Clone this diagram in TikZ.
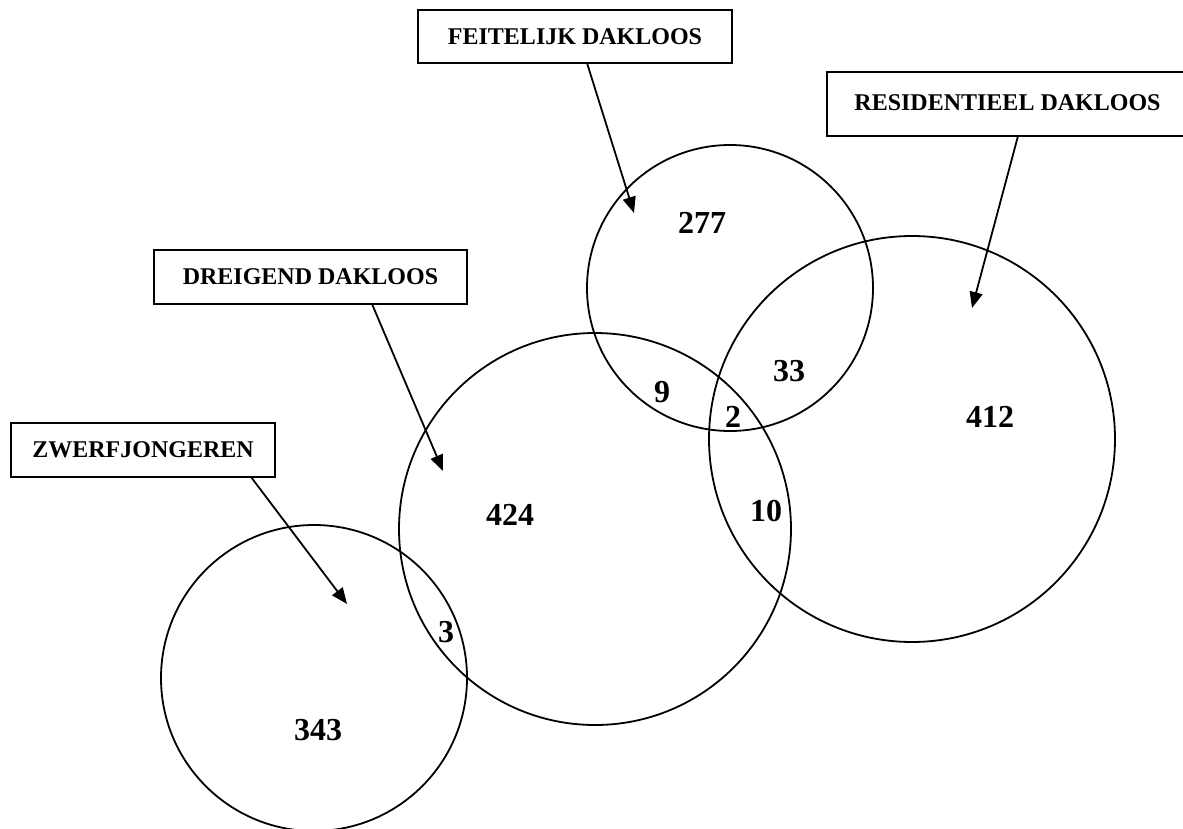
\documentclass[tikz,border=0pt]{standalone}
\usepackage{fontspec}
\setmainfont{Liberation Serif}
\usetikzlibrary{arrows.meta}
\begin{document}
\begin{tikzpicture}[x=1pt,y=-1pt,
  ring/.style={circle,draw,line width=1.8pt,inner sep=0pt},
  tagbox/.style={draw,line width=2pt,inner sep=0pt,outer sep=0pt,font=\fontsize{24}{27}\selectfont\bfseries},
  count/.style={font=\fontsize{32}{36}\selectfont\bfseries,inner sep=0pt},
  pointer/.style={line width=1.8pt,-{Triangle[length=16pt,width=13pt]}}]
\useasboundingbox (0,0) rectangle (1183,829);
\clip (0,0) rectangle (1183,829);
% circles
\node[ring,minimum size=286pt] (cf) at (730,288) {};
\node[ring,minimum size=406pt] (cr) at (912,439) {};
\node[ring,minimum size=392pt] (cd) at (595,529) {};
\node[ring,minimum size=306pt] (cz) at (314,678) {};
% boxes
\node[tagbox,minimum width=314pt,minimum height=53pt] (fe) at (575,36.5) {FEITELIJK DAKLOOS};
\node[tagbox,minimum width=361pt,minimum height=64pt] (re) at (1007.5,104) {\raisebox{3pt}{RESIDENTIEEL DAKLOOS}};
\node[tagbox,minimum width=313pt,minimum height=54pt] (dr) at (310.5,277) {DREIGEND DAKLOOS};
\node[tagbox,minimum width=264pt,minimum height=54pt] (zw) at (143,450) {ZWERFJONGEREN};
% arrow tips
\coordinate (tf) at (634,213);
\coordinate (tr) at (972,308);
\coordinate (td) at (443,471);
\coordinate (tz) at (347,604);
\draw[pointer] ([xshift=12pt]fe.south) -- (tf);
\draw[pointer] ([xshift=10.5pt]re.south) -- (tr);
\draw[pointer] ([xshift=61.5pt]dr.south) -- (td);
\draw[pointer] ([xshift=108pt]zw.south) -- (tz);
% counts
\node[count] (n277) at (702,223) {277};
\node[count] (n33) at (789,371) {33};
\node[count] (n9) at (662,392) {9};
\node[count] (n2) at (733,417) {2};
\node[count] (n412) at (990,417) {412};
\node[count] (n424) at (510,515) {424};
\node[count] (n10) at (766,511) {10};
\node[count] (n3) at (446,632) {3};
\node[count] (n343) at (318,730) {343};
\end{tikzpicture}
\end{document}
